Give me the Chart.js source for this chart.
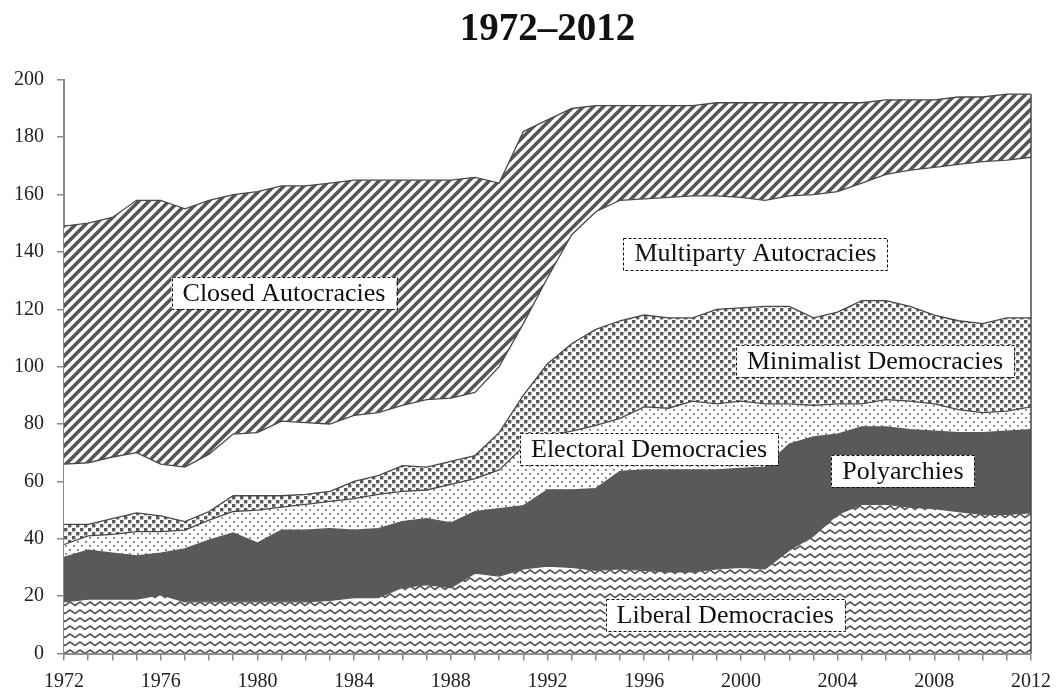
<!DOCTYPE html>
<html>
<head>
<meta charset="utf-8">
<title>1972–2012</title>
<script src="https://cdn.jsdelivr.net/npm/chart.js@4.4.1/dist/chart.umd.min.js"></script>
<style>
  html, body { margin: 0; padding: 0; background: #fff; }
  #wrap { width: 1060px; height: 689px; }
</style>
</head>
<body>
<div id="wrap"><canvas id="regimeChart" width="1060" height="689"></canvas></div>
<script>
'use strict';

// Years on the x axis
const years = [
    1972, 1973, 1974, 1975, 1976, 1977, 1978, 1979, 1980, 1981,
    1982, 1983, 1984, 1985, 1986, 1987, 1988, 1989, 1990, 1991,
    1992, 1993, 1994, 1995, 1996, 1997, 1998, 1999, 2000, 2001,
    2002, 2003, 2004, 2005, 2006, 2007, 2008, 2009, 2010, 2011, 2012
];

// Number of countries per regime type (stacked bottom to top)
const liberal = [
    18, 19, 19, 19, 20.5, 18, 18, 18, 18, 18,
    18, 18.5, 19.5, 19.5, 23, 24, 23, 28, 27, 29.5,
    30.5, 30, 29, 29.5, 29, 28.5, 28.5, 29.5, 30, 29.5,
    36, 41, 48.5, 52, 52, 51, 50.5, 49.5, 48.5, 48.5, 49
];
const polyarchies = [
    15.5, 17, 16, 15, 14.5, 18.5, 21.5, 24, 20.5, 25,
    25, 25, 23.5, 24, 23, 23, 22.5, 21.5, 23.5, 22,
    26.5, 27, 28.5, 34, 35, 35.5, 35.5, 34.5, 34.5, 35.5,
    37, 34.5, 28, 27, 27, 27, 27, 27.5, 28.5, 29, 29
];
const electoral = [
    4.5, 5, 6.5, 8.5, 7.5, 6.5, 7, 7.5, 11.5, 8,
    9, 9.5, 11, 12, 10.5, 10, 13.5, 11.5, 13.5, 20.5,
    19, 20.5, 22, 18.5, 22, 21.5, 24, 23, 23.5, 22,
    14, 11, 10.5, 8, 9.5, 10, 9.5, 8, 7, 7, 8
];
const minimalist = [
    7, 4, 5.5, 6.5, 5.5, 3, 3, 5.5, 5, 4,
    3.5, 3.5, 6, 6.5, 9, 8, 8, 8, 13, 18,
    25, 30.5, 33.5, 34, 32, 31.5, 29, 33, 32.5, 34,
    34, 30.5, 32, 36, 34.5, 33, 31, 31, 31, 32.5, 31
];
const multiparty = [
    21, 21.5, 21.5, 21, 18, 19, 20, 21.5, 22, 26,
    25, 23.5, 23, 22, 21, 23.5, 22, 22, 23, 25,
    30, 38, 41, 42, 40.5, 42, 42.5, 39.5, 38.5, 37,
    38.5, 43, 42, 41, 44, 47.5, 51.5, 54.5, 56.5, 55, 56
];
const closed = [
    83, 83.5, 83.5, 88, 92, 90, 88.5, 83.5, 84, 82,
    82.5, 84, 82, 81, 78.5, 76.5, 76, 75, 64, 67,
    55, 44, 37, 33, 32.5, 32, 31.5, 32.5, 33, 34,
    32.5, 32, 31, 28, 26, 24.5, 23.5, 23.5, 22.5, 23, 22
];

const yTicks = [0, 20, 40, 60, 80, 100, 120, 140, 160, 180, 200];

// Boxed area labels, anchored in data space (year, value)
const areaLabels = [
    { text: 'Closed Autocracies', year: 1981.1, value: 125.7 },
    { text: 'Multiparty Autocracies', year: 2000.6, value: 139.4 },
    { text: 'Minimalist Democracies', year: 2005.55, value: 102 },
    { text: 'Electoral Democracies', year: 1996.2, value: 71.3 },
    { text: 'Polyarchies', year: 2006.7, value: 63.6 },
    { text: 'Liberal Democracies', year: 1999.35, value: 13.4 }
];

const SERIF = '"Liberation Serif", "Times New Roman", serif';
const DARK = '#595959';
const LINE = '#484848';

// Pattern helpers
function makeTile(w, h, paint) {
    const c = document.createElement('canvas');
    c.width = w;
    c.height = h;
    const ctx = c.getContext('2d');
    ctx.fillStyle = '#fff';
    ctx.fillRect(0, 0, w, h);
    paint(ctx);
    return document.createElement('canvas').getContext('2d').createPattern(c, 'repeat');
}

function zigzagPattern() {
    return makeTile(10, 8, ctx => {
        ctx.strokeStyle = '#555';
        ctx.lineWidth = 1.6;
        ctx.beginPath();
        ctx.moveTo(-2.5, 4);
        ctx.lineTo(0, 2);
        ctx.lineTo(5, 5.5);
        ctx.lineTo(10, 2);
        ctx.lineTo(12.5, 4);
        ctx.stroke();
    });
}

function dotPattern() {
    return makeTile(8, 8, ctx => {
        ctx.fillStyle = '#777';
        ctx.fillRect(1, 1, 1.8, 1.8);
        ctx.fillRect(5, 5, 1.8, 1.8);
    });
}

function squarePattern() {
    return makeTile(8, 8, ctx => {
        ctx.fillStyle = '#5a5a5a';
        ctx.fillRect(0, 0, 3.4, 3.4);
        ctx.fillRect(4, 4, 3.4, 3.4);
    });
}

function stripePattern() {
    return makeTile(10, 10, ctx => {
        ctx.strokeStyle = '#555';
        ctx.lineWidth = 3.6;
        ctx.beginPath();
        ctx.moveTo(-5, 15); ctx.lineTo(15, -5);
        ctx.moveTo(-10, 10); ctx.lineTo(10, -10);
        ctx.moveTo(0, 20); ctx.lineTo(20, 0);
        ctx.stroke();
    });
}

// Draws the dashed label boxes and the right-hand edge of the stack
const annotationPlugin = {
    id: 'areaAnnotations',
    afterDatasetsDraw(chart) {
        const ctx = chart.ctx;
        const x = chart.scales.x;
        const y = chart.scales.y;

        // Right edge of the stacked areas
        const topMeta = chart.getDatasetMeta(chart.data.datasets.length - 1);
        const last = topMeta.data[topMeta.data.length - 1];
        ctx.save();
        ctx.strokeStyle = LINE;
        ctx.lineWidth = 1.5;
        ctx.beginPath();
        ctx.moveTo(last.x, last.y);
        ctx.lineTo(last.x, chart.chartArea.bottom);
        ctx.stroke();
        ctx.restore();

        ctx.save();
        ctx.font = '26px ' + SERIF;
        ctx.textAlign = 'center';
        ctx.textBaseline = 'middle';
        areaLabels.forEach(l => {
            const cx = x.getPixelForValue(l.year - years[0]);
            const cy = y.getPixelForValue(l.value);
            const w = ctx.measureText(l.text).width + 22;
            const h = 32;
            ctx.fillStyle = '#fff';
            ctx.fillRect(cx - w / 2, cy - h / 2, w, h);
            ctx.setLineDash([3, 2]);
            ctx.strokeStyle = '#111';
            ctx.lineWidth = 1;
            ctx.strokeRect(Math.round(cx - w / 2) + 0.5, Math.round(cy - h / 2) + 0.5, Math.round(w), h);
            ctx.setLineDash([]);
            ctx.fillStyle = '#111';
            ctx.fillText(l.text, cx, cy + 1);
        });
        ctx.restore();
    }
};

function areaDataset(label, data, fill, background, border) {
    return {
        label: label,
        data: data,
        fill: fill,
        backgroundColor: background,
        borderColor: border,
        borderWidth: 1.3,
        pointRadius: 0,
        tension: 0
    };
}

function init() {
    const canvas = document.getElementById('regimeChart');
    if (!canvas || typeof Chart === 'undefined') return;

    new Chart(canvas.getContext('2d'), {
        type: 'line',
        data: {
            labels: years,
            datasets: [
                areaDataset('Liberal Democracies', liberal, 'origin', zigzagPattern(), DARK),
                areaDataset('Polyarchies', polyarchies, '-1', DARK, DARK),
                areaDataset('Electoral Democracies', electoral, '-1', dotPattern(), LINE),
                areaDataset('Minimalist Democracies', minimalist, '-1', squarePattern(), LINE),
                areaDataset('Multiparty Autocracies', multiparty, '-1', '#fff', LINE),
                areaDataset('Closed Autocracies', closed, '-1', stripePattern(), LINE)
            ]
        },
        options: {
            responsive: false,
            animation: false,
            layout: { padding: { left: 0, right: 24, top: 0, bottom: 0 } },
            plugins: {
                legend: { display: false },
                tooltip: { enabled: false },
                title: {
                    display: true,
                    fullSize: false,
                    text: '1972–2012',
                    color: '#111',
                    font: { family: SERIF, size: 39, weight: 'bold', lineHeight: 1.2 },
                    padding: { top: 7, bottom: 26 }
                }
            },
            scales: {
                x: {
                    type: 'category',
                    offset: false,
                    grid: {
                        drawOnChartArea: false,
                        drawTicks: true,
                        tickLength: 7,
                        color: '#8a8a8a',
                        lineWidth: 1.5
                    },
                    border: { color: '#8a8a8a', width: 2 },
                    ticks: {
                        autoSkip: false,
                        maxRotation: 0,
                        padding: 9,
                        color: '#222',
                        font: { family: SERIF, size: 20 },
                        callback: (val, i) => (i % 4 === 0 ? String(years[i]) : '')
                    },
                    afterFit: scale => { scale.height = 35.5; }
                },
                y: {
                    stacked: true,
                    min: yTicks[0],
                    max: yTicks[yTicks.length - 1],
                    grid: {
                        drawOnChartArea: false,
                        drawTicks: true,
                        tickLength: 7,
                        color: '#8a8a8a',
                        lineWidth: 1.5
                    },
                    border: { color: '#8a8a8a', width: 2 },
                    afterBuildTicks: scale => {
                        scale.ticks = yTicks.map(v => ({ value: v }));
                    },
                    ticks: {
                        padding: 13,
                        color: '#222',
                        font: { family: SERIF, size: 20 }
                    },
                    afterFit: scale => { scale.width = 64; }
                }
            }
        },
        plugins: [annotationPlugin]
    });
}

init();
</script>
</body>
</html>
